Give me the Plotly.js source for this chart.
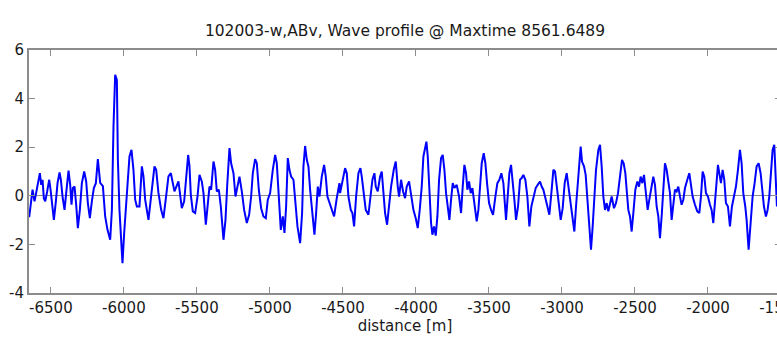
<!DOCTYPE html>
<html>
<head>
<meta charset="utf-8">
<script src="https://cdn.plot.ly/plotly-3.0.1.min.js"></script>
<style>
html,body{margin:0;padding:0;overflow:hidden;background:#fff;width:777px;height:337px;}
#chart{width:785px;height:337px;}
</style>
</head>
<body>
<div id="chart"></div>
<script>
// distance [m]
const distance = [
-6648.6,-6625.7,-6612.1,-6600.6,-6584.7,-6575.6,-6566.4,-6557.3,-6548.2,-6539.0,-6525.4,-6511.7,-6502.5,-6493.4,-6479.7,-6466.0,-6454.6,-6440.9,-6431.8,-6420.4,-6406.7,-6393.0,-6379.3,-6367.9,-6358.8,-6349.6,-6338.2,-6326.8,-6315.4,-6301.7,-6288.0,-6272.0,-6258.4,-6246.9,-6233.2,-6219.6,-6205.9,-6192.2,-6178.5,
-6162.5,-6144.0,-6128.3,-6112.5,-6094.0,-6082.4,-6071.4,-6059.8,-6048.2,-6041.3,-6030.4,-6018.7,-6009.8,-5998.2,-5979.7,-5961.9,-5948.2,-5934.6,-5922.9,-5911.3,-5893.5,-5877.0,-5866.1,-5854.4,-5831.8,-5808.6,-5790.8,-5779.1,-5763.4,-5744.9,-5729.2,-5710.7,-5694.9,-5678.5,-5653.9,-5626.5,
-5603.4,-5587.4,-5573.7,-5560.0,-5550.9,-5541.8,-5528.1,-5512.1,-5496.1,-5482.4,-5466.5,-5455.1,-5439.1,-5425.4,-5414.0,-5402.6,-5386.6,-5375.2,-5363.8,-5350.1,-5336.4,-5318.1,-5304.4,-5293.0,-5277.1,-5265.7,-5249.7,-5236.0,-5222.3,-5208.6,-5192.6,-5176.7,-5158.4,-5142.4,-5128.7,-5117.3,-5101.4,-5089.9,-5076.2,-5060.3,-5044.3,-5028.3,-5014.6,-4998.7,-4980.4,-4964.4,-4953.0,-4941.6,-4925.6,-4911.9,-4900.5,-4889.1,-4877.7,-4866.3,-4854.9,-4838.9,-4827.5,-4811.5,-4793.3,-4779.6,-4770.5,-4759.0,-4747.6,-4736.2,-4724.8,-4706.6,-4695.2,-4683.7,-4672.3,-4660.9,-4644.9,-4629.0,-4617.6,-4606.2,-4592.5,-4576.5,-4560.5,-4542.3,-4524.0,
-4519.5,-4503.5,-4485.2,-4473.8,-4462.4,-4446.4,-4435.0,-4423.6,-4409.9,-4394.0,-4380.3,-4371.1,-4357.4,-4343.8,-4325.5,-4311.8,-4298.1,-4284.4,-4275.3,-4261.6,-4245.6,-4234.2,-4222.8,-4211.4,-4197.7,-4184.0,-4170.3,-4152.1,-4138.4,-4124.7,-4115.6,-4101.9,-4088.2,-4074.5,-4063.1,-4047.1,-4033.4,-4017.4,-4001.5,-3987.8,-3974.1,-3960.4,-3949.0,-3937.6,-3928.4,-3919.3,-3907.9,-3896.5,-3887.4,-3875.9,-3864.5,-3853.1,-3841.7,-3828.0,-3816.6,-3805.2,-3793.8,-3782.4,-3770.9,-3759.5,-3748.1,-3736.7,-3720.7,-3704.8,-3691.1,-3679.7,-3668.3,-3656.9,-3647.7,-3636.3,-3624.9,-3613.5,-3599.8,-3583.9,-3572.4,-3561.0,-3549.6,-3535.9,-3524.5,-3513.1,-3499.4,-3485.7,-3472.0,
-3456.1,-3442.4,-3428.7,-3415.0,-3401.3,-3389.9,-3383.1,-3371.7,-3360.2,-3348.8,-3337.4,-3326.0,-3314.6,-3300.9,-3287.2,-3275.8,-3264.4,-3250.7,-3237.0,-3223.3,-3209.6,-3195.9,-3180.0,-3166.3,-3150.3,-3138.9,-3127.5,-3116.1,-3100.1,-3086.4,-3072.7,-3059.0,-3047.6,-3036.2,-3022.5,-3008.8,-2995.1,-2981.4,-2967.7,-2954.0,-2940.4,-2926.7,-2915.2,-2903.8,-2892.4,-2881.0,-2871.9,-2862.8,-2849.1,-2837.7,-2826.3,-2812.6,-2801.2,-2789.7,-2778.3,-2766.9,-2750.9,-2739.5,-2728.1,-2716.7,-2705.3,-2693.9,-2682.5,-2671.1,-2659.7,-2643.7,-2630.0,-2616.3,-2602.6,-2588.9,-2577.5,-2566.1,-2557.0,-2545.6,-2534.2,-2522.7,-2511.3,-2497.6,-2483.9,-2472.5,-2461.1,-2449.7,-2438.3,-2426.9,-2413.2,-2401.8,
-2385.8,-2374.4,-2363.0,-2351.6,-2340.2,-2328.8,-2317.4,-2306.0,-2294.6,-2283.1,-2271.7,-2260.3,-2248.9,-2237.5,-2226.1,-2214.7,-2203.3,-2191.9,-2180.5,-2169.0,-2157.6,-2141.7,-2128.0,-2116.6,-2105.1,-2089.2,-2073.2,-2059.5,-2048.1,-2036.7,-2025.3,-2013.9,-2000.2,-1986.5,-1975.1,-1963.7,-1952.3,-1940.8,-1931.7,-1922.6,-1911.2,-1899.8,-1888.4,-1876.9,-1863.3,-1849.6,-1835.9,-1822.2,-1808.5,-1794.8,-1781.1,-1769.7,-1758.3,-1744.6,-1735.5,-1721.8,-1708.1,-1694.4,-1680.7,-1667.0,-1653.3,-1639.6,-1628.2,-1616.8,-1603.1,-1591.7,-1580.3,-1568.9,-1557.5,-1546.1,-1534.6,-1527.8
];
// surface elevation
const elevation = [
-0.88,0.25,-0.23,0.18,0.73,0.93,0.45,0.66,-0.10,-0.23,0.18,0.66,0.25,-0.37,-0.99,-0.23,0.52,0.96,0.66,-0.03,-0.58,0.25,1.04,0.45,-0.37,0.32,0.38,-0.37,-1.33,-0.58,0.52,1.00,0.59,-0.30,-0.92,-0.23,0.32,0.52,1.51,
0.53,0.40,-0.85,-1.40,-1.81,-0.58,2.85,4.98,4.77,1.48,-0.58,-1.67,-2.77,-1.53,0.12,1.62,1.89,1.07,-0.16,-0.44,-0.44,1.21,0.80,-0.16,-0.99,0.38,1.21,1.07,0.12,-0.58,-0.92,0.00,0.80,0.93,0.18,0.59,
-0.51,-0.23,0.93,1.68,1.21,0.04,-0.64,-0.71,-0.03,0.86,0.59,0.11,-1.19,-0.16,0.38,0.25,1.41,1.07,0.18,0.25,-0.44,-1.81,-0.99,0.38,1.96,1.34,0.93,-0.03,0.38,0.79,0.18,-0.58,-1.12,-0.78,-0.03,0.93,1.51,1.34,0.25,-0.51,-0.85,-0.92,-0.16,0.11,1.07,1.68,1.34,-0.03,-1.40,-0.85,-1.53,-0.44,1.55,1.07,0.79,0.66,-0.03,-1.26,-1.95,-0.71,1.21,2.05,1.48,1.21,0.25,-0.85,-1.60,-0.71,0.38,-0.03,0.79,1.27,0.79,-0.03,-0.30,-0.64,-0.85,-0.10,0.52,
0.11,0.66,1.14,0.93,-0.03,-0.58,-0.71,-1.26,-0.03,0.93,1.14,0.79,-0.03,-0.58,-0.78,-0.03,0.66,0.93,0.38,0.18,0.79,1.00,0.25,-0.71,-1.19,-0.44,0.38,1.07,1.41,0.38,-0.03,0.66,0.18,-0.10,0.38,0.59,0.11,-0.58,-0.92,-1.33,-0.58,0.38,1.62,1.96,2.23,1.62,-0.03,-1.12,-1.60,-1.26,-1.64,-0.85,0.66,1.55,1.68,1.07,0.11,-0.58,-0.99,-0.16,0.52,0.32,0.45,-0.03,-0.71,0.38,1.27,0.93,0.25,0.59,0.11,0.32,-0.44,-1.05,-0.58,0.38,1.34,1.75,1.34,0.52,-0.30,-0.58,-0.78,
-0.03,0.52,0.66,0.93,0.52,-0.58,-0.99,-0.03,0.93,1.27,0.66,-0.16,-0.99,-0.44,0.66,0.73,0.86,0.66,-0.03,-1.26,-0.44,-0.03,0.32,0.45,0.59,0.38,0.25,-0.03,-0.44,-0.78,0.11,1.07,1.00,0.38,-0.44,-0.99,-0.51,0.52,0.93,0.32,-0.37,-0.85,-1.47,-0.44,0.38,1.34,2.03,1.41,1.21,0.86,-0.03,-0.99,-2.22,-1.26,-0.03,1.07,1.89,2.10,1.21,-0.03,-0.58,-0.30,-0.64,-0.30,-0.03,-0.51,-0.30,0.11,0.93,1.48,1.34,0.93,0.25,-0.58,-0.85,-1.47,-0.71,0.25,0.59,0.38,0.79,0.52,0.86,0.11,-0.58,-0.16,
0.32,0.79,0.45,-0.44,-0.85,-1.74,-0.85,0.38,1.34,1.07,0.66,0.11,-0.99,-0.44,0.25,0.18,0.38,-0.03,-0.37,-0.16,0.32,0.66,0.93,0.45,-0.03,-0.37,-0.64,-0.71,-0.03,1.00,0.79,0.11,-0.03,-0.37,-0.58,-1.12,-0.30,0.52,1.27,0.93,0.52,1.07,0.66,-0.30,-0.44,-1.26,-0.44,-0.03,0.38,1.07,1.89,1.34,0.11,-0.44,-0.99,-2.22,-1.12,-0.03,0.52,1.21,1.34,0.93,0.25,-0.44,-0.85,-0.58,-0.03,0.93,1.89,2.10,0.38,-0.44
];
const xTickVals = [-6500,-6000,-5500,-5000,-4500,-4000,-3500,-3000,-2500,-2000,-1500];
const xTickText = ["-6500","-6000","-5500","-5000","-4500","-4000","-3500","-3000","-2500","-2000","-1500"];
const yTickVals = [-4,-2,0,2,4,6];
const yTickText = ["-4","-2","0","2","4","6"];

const FONT = 'DejaVu Sans, Liberation Sans, Arial, sans-serif';
const axisCommon = {
  showline: true, linecolor: '#8c8c8c', linewidth: 2, mirror: 'ticks',
  ticks: 'inside', ticklen: 6, tickwidth: 1, tickcolor: '#8c8c8c',
  showgrid: false, tickfont: {family: FONT, size: 15, color: '#1a1a1a'},
  tickmode: 'array'
};

const trace = {
  x: distance, y: elevation, type: 'scatter', mode: 'lines',
  line: {color: '#0000ff', width: 2}, hoverinfo: 'skip'
};

const layout = {
  width: 785, height: 337,
  margin: {l: 29, r: 4, t: 50, b: 44},
  paper_bgcolor: '#ffffff', plot_bgcolor: '#ffffff',
  showlegend: false,
  title: {text: '102003-w,ABv, Wave profile @ Maxtime 8561.6489', x: 0.5, xref: 'paper', xanchor: 'center',
          y: 1 - 31/337, yref: 'container', yanchor: 'middle',
          font: {family: FONT, size: 15.5, color: '#1a1a1a'}},
  xaxis: Object.assign({}, axisCommon, {
    range: [-6650, -1500], tickvals: xTickVals, ticktext: xTickText, zeroline: false,
    ticklabeloverflow: 'allow',
    title: {text: 'distance [m]', standoff: 3, font: {family: FONT, size: 15, color: '#1a1a1a'}}
  }),
  yaxis: Object.assign({}, axisCommon, {
    range: [-4, 6], tickvals: yTickVals, ticktext: yTickText,
    zeroline: true, zerolinecolor: '#8c8c8c', zerolinewidth: 1
  })
};

Plotly.newPlot('chart', [trace], layout, {displayModeBar: false, staticPlot: true});
</script>
</body>
</html>
